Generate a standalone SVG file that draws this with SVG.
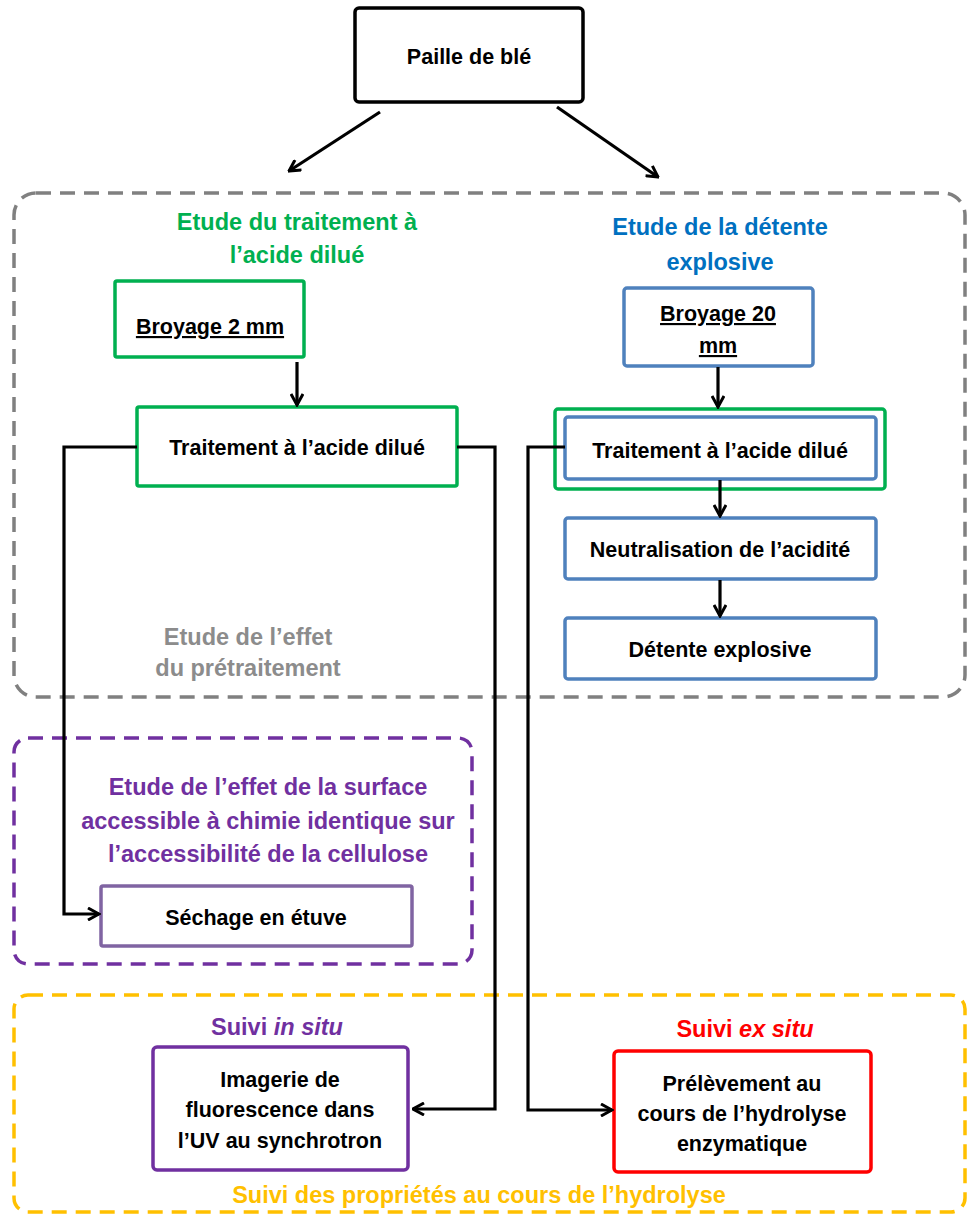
<svg xmlns="http://www.w3.org/2000/svg" width="968" height="1216" viewBox="0 0 968 1216">
<style>
text{font-family:"Liberation Sans",Arial,sans-serif;font-weight:bold;text-anchor:middle}
.t{font-size:21.5px;fill:#000}
.h{font-size:23.5px}
.box{fill:#fff;stroke-width:3.5}
.conn{fill:none;stroke:#000;stroke-width:3.2}
.grp{fill:none;stroke-width:3.5;stroke-dasharray:15 9}
</style>
<defs>
<marker id="arr" viewBox="0 0 14 14" refX="12.5" refY="7" markerWidth="14" markerHeight="14" markerUnits="userSpaceOnUse" orient="auto">
<path d="M1.5,1 L12.5,7 L1.5,13" fill="none" stroke="#000" stroke-width="3"/>
</marker>
</defs>

<g id="group-pretraitement">
<rect class="grp" x="14" y="193" width="951" height="504" rx="22" stroke="#808080" stroke-dasharray="17 11"/>
<text class="h" x="248" y="645" fill="#8c8c8c">Etude de l’effet</text>
<text class="h" x="248" y="676" fill="#8c8c8c">du prétraitement</text>
</g>
<g id="group-surface">
<rect class="grp" x="14" y="738" width="458" height="226" rx="14" stroke="#7030A0"/>
<text class="h" x="268" y="795" fill="#7030A0">Etude de l’effet de la surface</text>
<text class="h" x="268" y="829" fill="#7030A0">accessible à chimie identique sur</text>
<text class="h" x="268" y="862" fill="#7030A0">l’accessibilité de la cellulose</text>
</g>
<g id="group-suivi">
<rect class="grp" x="14" y="995" width="951" height="217" rx="14" stroke="#FFC000"/>
<text class="h" x="479" y="1203" fill="#FFC000">Suivi des propriétés au cours de l’hydrolyse</text>
</g>

<g id="title-acide">
<text class="h" x="297" y="230" fill="#00B050">Etude du traitement à</text>
<text class="h" x="297" y="263" fill="#00B050">l’acide dilué</text>
</g>
<g id="title-detente">
<text class="h" x="720" y="235" fill="#0070C0">Etude de la détente</text>
<text class="h" x="720" y="270" fill="#0070C0">explosive</text>
</g>

<g id="paille">
<rect x="355" y="8" width="228" height="94" rx="4" fill="#fff" stroke="#000" stroke-width="3.5"/>
<text class="t" x="469" y="64">Paille de blé</text>
</g>

<g id="broyage2">
<rect class="box" x="115" y="281" width="189" height="76" rx="2" stroke="#00B050"/>
<text class="t" x="210" y="334" text-decoration="underline">Broyage 2 mm</text>
</g>
<g id="traitement-left">
<rect class="box" x="137" y="407" width="320" height="79" rx="2" stroke="#00B050"/>
<text class="t" x="297" y="455">Traitement à l’acide dilué</text>
</g>

<g id="broyage20">
<rect class="box" x="624" y="288" width="189" height="78" rx="3" stroke="#4F81BD"/>
<text class="t" x="718" y="321" text-decoration="underline">Broyage 20</text>
<text class="t" x="718" y="353" text-decoration="underline">mm</text>
</g>
<g id="traitement-right">
<rect class="box" x="555" y="409" width="330" height="80" rx="3" stroke="#00B050"/>
<rect class="box" x="565" y="417" width="311" height="62" rx="3" stroke="#4F81BD"/>
<text class="t" x="720" y="458">Traitement à l’acide dilué</text>
</g>
<g id="neutralisation">
<rect class="box" x="565" y="518" width="311" height="61" rx="3" stroke="#4F81BD"/>
<text class="t" x="720" y="557">Neutralisation de l’acidité</text>
</g>
<g id="detente">
<rect class="box" x="565" y="618" width="311" height="61" rx="3" stroke="#4F81BD"/>
<text class="t" x="720" y="657">Détente explosive</text>
</g>

<g id="sechage">
<rect class="box" x="101" y="886" width="311" height="60" rx="2" stroke="#8064A2"/>
<text class="t" x="256" y="925">Séchage en étuve</text>
</g>

<g id="title-insitu">
<text class="h" x="277" y="1035" fill="#7030A0">Suivi <tspan font-style="italic">in situ</tspan></text>
</g>
<g id="title-exsitu">
<text class="h" x="745" y="1037" fill="#FF0000">Suivi <tspan font-style="italic">ex situ</tspan></text>
</g>
<g id="imagerie">
<rect class="box" x="153" y="1047" width="255" height="123" rx="4" stroke="#7030A0"/>
<text class="t" x="280" y="1087">Imagerie de</text>
<text class="t" x="280" y="1117">fluorescence dans</text>
<text class="t" x="280" y="1148">l’UV au synchrotron</text>
</g>
<g id="prelevement">
<rect class="box" x="614" y="1051" width="257" height="121" rx="4" stroke="#FF0000"/>
<text class="t" x="742" y="1091">Prélèvement au</text>
<text class="t" x="742" y="1121">cours de l’hydrolyse</text>
<text class="t" x="742" y="1151">enzymatique</text>
</g>

<g id="connectors">
<line class="conn" x1="380" y1="112" x2="289" y2="171" marker-end="url(#arr)"/>
<line class="conn" x1="557" y1="107" x2="658" y2="177" marker-end="url(#arr)"/>
<line class="conn" x1="297" y1="362" x2="297" y2="405" marker-end="url(#arr)"/>
<line class="conn" x1="718" y1="367" x2="718" y2="407" marker-end="url(#arr)"/>
<line class="conn" x1="720" y1="480" x2="720" y2="516" marker-end="url(#arr)"/>
<line class="conn" x1="720" y1="580" x2="720" y2="616" marker-end="url(#arr)"/>
<polyline class="conn" points="137,447 64,447 64,914 99,914" marker-end="url(#arr)"/>
<polyline class="conn" points="457,447 495,447 495,1109 413,1109" marker-end="url(#arr)"/>
<polyline class="conn" points="565,447 528,447 528,1110 612,1110" marker-end="url(#arr)"/>
</g>
</svg>
